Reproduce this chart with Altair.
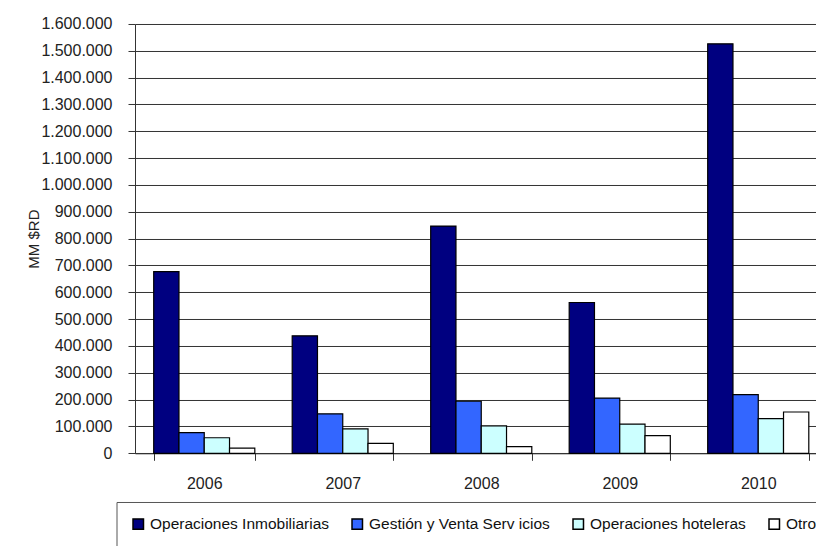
import altair as alt
import pandas as pd

years = ["2006", "2007", "2008", "2009", "2010"]
series = ["Operaciones Inmobiliarias", "Gestión y Venta Serv icios", "Operaciones hoteleras", "Otros"]
op_inmobiliarias = [677000, 438000, 847000, 562000, 1526000]
gestion_venta = [77000, 147000, 194000, 206000, 219000]
op_hoteleras = [58000, 91000, 102000, 109000, 129000]
otros = [19000, 37000, 25000, 66000, 154000]
colors = ["#000080", "#3366FF", "#CCFFFF", "#FFFFFF"]

rows = []
for name, vals in zip(series, [op_inmobiliarias, gestion_venta, op_hoteleras, otros]):
    for y, v in zip(years, vals):
        rows.append({"Año": y, "Serie": name, "Valor": v})
df = pd.DataFrame(rows)

FONT = "Liberation Sans"

chart = alt.Chart(df).mark_bar(stroke="black", strokeWidth=1.2).encode(
    x=alt.X("Año:N", sort=years, title=None,
            scale=alt.Scale(range=[0, 692.5], paddingInner=0.27, paddingOuter=0.135),
            axis=alt.Axis(tickBand="extent", labelAngle=0, labelFont=FONT, labelFontSize=16,
                          labelColor="#222", labelPadding=15, tickSize=7, tickColor="#333",
                          domainColor="#333", grid=False)),
    xOffset=alt.XOffset("Serie:N", sort=series, scale=alt.Scale(paddingInner=0, paddingOuter=0)),
    y=alt.Y("Valor:Q", title="MM $RD",
            scale=alt.Scale(domain=[0, 1600000], nice=False),
            axis=alt.Axis(values=list(range(0, 1600001, 100000)),
                          labelExpr="replace(format(datum.value, ','), /,/g, '.')",
                          labelFont=FONT, labelFontSize=16, labelColor="#222",
                          labelPadding=16, tickSize=7, tickColor="#333", domainColor="#333",
                          gridColor="#333", gridWidth=1,
                          titleFont=FONT, titleFontSize=15, titleFontWeight="normal",
                          titleColor="#222", titleX=-102, titleY=214.6, titleAngle=-90,
                          titleAlign="center", titleBaseline="middle")),
    color=alt.Color("Serie:N", sort=series,
                    scale=alt.Scale(domain=series, range=colors),
                    legend=alt.Legend(title=None, orient="none", legendX=-18.5, legendY=478,
                                      direction="horizontal", columns=4,
                                      strokeColor="#555", padding=14,
                                      symbolType="square", symbolSize=110,
                                      symbolStrokeColor="black", symbolStrokeWidth=1.5,
                                      labelFont=FONT, labelFontSize=15.5, labelColor="#111",
                                      labelLimit=0, labelOffset=4, columnPadding=19)),
).properties(
    width=681, height=429.3,
    autosize=alt.AutoSizeParams(type="none"),
    padding={"left": 135, "top": 24, "right": 0, "bottom": 93},
).configure_view(stroke=None)

chart.save("out.html", embed_options={"renderer": "svg", "actions": False})
